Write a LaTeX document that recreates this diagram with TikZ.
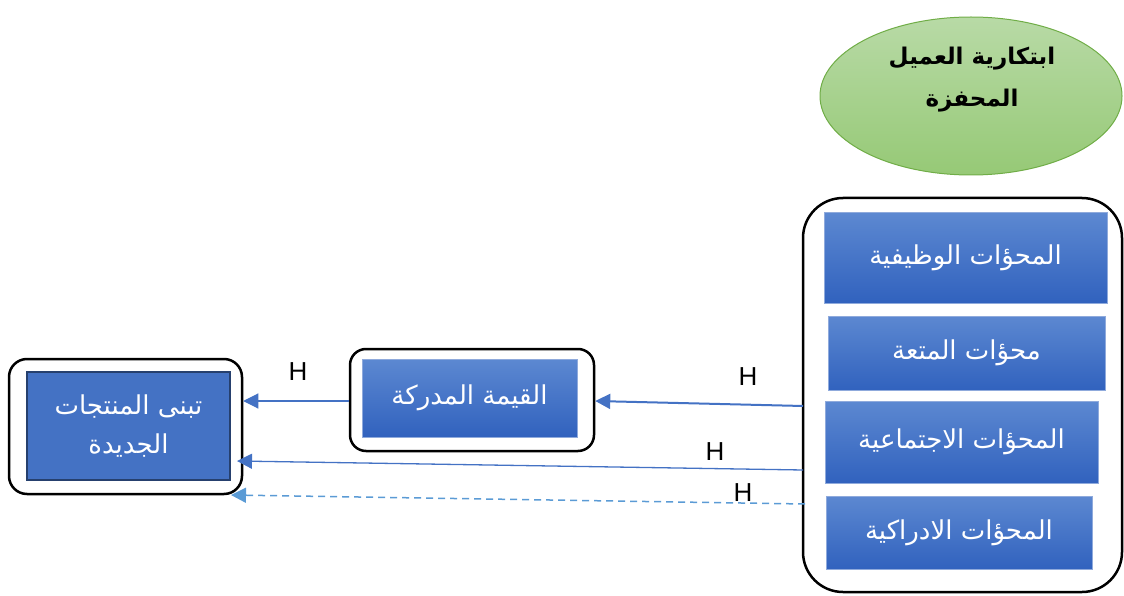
\documentclass[tikz,border=0pt]{standalone}
\usepackage{fontspec}
\setmainfont{Liberation Sans}
\newfontfamily\arabicfont[Script=Arabic]{DejaVu Sans}
\TeXXeTstate=1
\usetikzlibrary{arrows.meta,calc,shapes.geometric}
\definecolor{arrblue}{RGB}{68,114,196}
\definecolor{dashblue}{RGB}{91,155,213}
\definecolor{boxtop}{RGB}{92,136,209}
\definecolor{boxbot}{RGB}{49,98,190}
\definecolor{boxedge}{RGB}{143,170,220}
\definecolor{elltop}{RGB}{184,218,166}
\definecolor{ellbot}{RGB}{150,201,118}
\definecolor{elledge}{RGB}{112,173,71}
\definecolor{darkedge}{RGB}{38,64,110}
\tikzset{
  bluebox/.style={draw=boxedge, line width=1pt, top color=boxtop, bottom color=boxbot,
    text=white, font=\arabicfont\fontsize{26}{32}\selectfont, align=center, inner sep=0pt},
  frame/.style={draw=black, line width=2.5pt, inner sep=0pt},
  arr/.style={draw=arrblue, -{Triangle[length=15pt,width=15pt]}},
  hlabel/.style={font=\fontsize{26}{30}\selectfont, inner sep=0pt}
}
\begin{document}
\begin{tikzpicture}[x=1pt,y=-1pt]
\useasboundingbox (0,0) rectangle (1124,596);
% ellipse
\node[ellipse, draw=elledge, line width=1pt, top color=elltop, bottom color=ellbot,
  minimum width=302pt, minimum height=158pt, inner sep=0pt] (ell) at (971,96) {};
\node[font=\arabicfont\bfseries\fontsize{23}{42}\selectfont, align=center] (elltext) at (972,80)
  {\beginR ابتكارية العميل\endR\\\beginR المحفزة\endR};
% big frame
\node[frame, rounded corners=40pt, minimum width=319pt, minimum height=394pt] (frame) at (962.5,395) {};
\node[bluebox, minimum width=283pt, minimum height=90pt] (b1) at (965.5,258) {\beginR المحؤات الوظيفية\endR};
\node[bluebox, minimum width=277pt, minimum height=74pt] (b2) at (966.5,353) {\beginR محؤات المتعة\endR};
\node[bluebox, minimum width=273pt, minimum height=82pt] (b3) at (961.5,442) {\beginR المحؤات الاجتماعية\endR};
\node[bluebox, minimum width=266pt, minimum height=73pt] (b4) at (959,532.5) {\beginR المحؤات الادراكية\endR};
% middle
\node[frame, rounded corners=16pt, minimum width=244pt, minimum height=102pt] (midframe) at (472,400) {};
\node[bluebox, minimum width=215pt, minimum height=78pt] (mid) at (469.5,398) {\beginR القيمة المدركة\endR};
% left
\node[frame, rounded corners=18pt, minimum width=233pt, minimum height=135pt] (leftframe) at (125.5,426.5) {};
\node[draw=darkedge, line width=2pt, fill=arrblue, text=white, font=\arabicfont\fontsize{26}{39}\selectfont,
  align=center, minimum width=203pt, minimum height=108pt, inner sep=0pt] (left) at (128.5,426)
  {\beginR تبنى المنتجات\endR\\\beginR الجديدة\endR};
% connector end points
\coordinate (s2) at (803,406);
\coordinate (s3) at (803,470);
\coordinate (t3) at (237,461);
\coordinate (s4) at (805,504);
\coordinate (t4) at (231,495);
% connectors
\draw[arr, line width=1.1pt] (midframe.west |- 0,401) -- (leftframe.east |- 0,401);
\draw[arr, line width=2pt] (s2) -- (midframe.east |- 0,401);
\draw[arr, line width=1.3pt] (s3) -- (t3);
\draw[arr, draw=dashblue, line width=1.5pt, dash pattern=on 7pt off 5pt] (s4) -- (t4);
% labels
\node[hlabel] (h1) at (298,372) {H};
\node[hlabel] (h2) at (748,377) {H};
\node[hlabel] (h3) at (715,452) {H};
\node[hlabel] (h4) at (743,493) {H};
\end{tikzpicture}
\end{document}
